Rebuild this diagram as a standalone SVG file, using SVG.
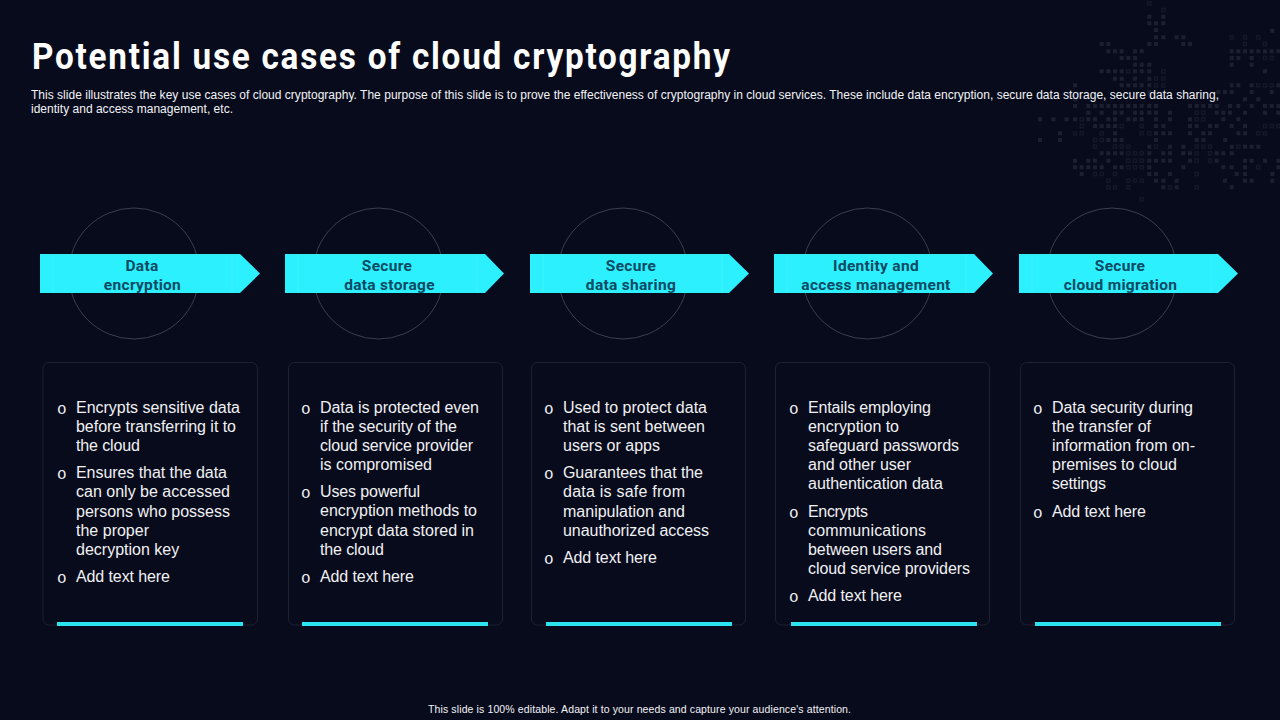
<svg xmlns="http://www.w3.org/2000/svg" xmlns:xlink="http://www.w3.org/1999/xlink" width="1280" height="720" viewBox="0 0 1280 720">
<style>
.title{font:700 37px Roboto,"Liberation Sans",sans-serif;fill:#fff}
.intro{font:12px "Liberation Sans",Arial,sans-serif;fill:#f2f3f6}
.foot{font:10.5px "Liberation Sans",Arial,sans-serif;fill:#f2f3f6}
.b{font:16px "Liberation Sans",Arial,sans-serif;fill:#f0f1f4}
.o{font:16px "Liberation Mono","Courier New",monospace;fill:#f0f1f4}
.h{font:700 15.5px Roboto,"Liberation Sans",sans-serif;fill:#0b4a62;text-anchor:middle;letter-spacing:.3px}
.ring{fill:none;stroke:#3b3f4c;stroke-width:1}
.arrow{fill:#2cf0fe}
.fold{stroke:#3cf2fe;stroke-width:1}
.card{fill:#080b1b;stroke:#1d2130;stroke-width:1}
.bar{fill:#2ce4f0}
</style>
<defs>
<path id="cellsO" d="M388 10h0M430 30h0M635 112h0M675 112h0M715 112h0M675 132h0M735 132h0M735 174h0M755 174h0M325 214h0M430 214h0M408 236h0M430 236h0M408 256h0M430 256h0M715 256h0M735 256h0M755 256h0M530 338h0M550 338h0M185 358h0M530 358h0M550 358h0M185 378h0M305 378h0M365 378h0M735 378h0M755 378h0M775 378h0M165 400h0M185 400h0M245 400h0M365 400h0M388 400h0M715 400h0M735 400h0M225 420h0M245 420h0M225 440h0M285 440h0M305 440h0M325 440h0M408 440h0M530 440h0M550 440h0M570 440h0M655 440h0M325 460h0M345 460h0M365 460h0M530 460h0M570 460h0M325 482h0M345 482h0M365 482h0M530 482h0M570 482h0M325 502h0M345 502h0M365 502h0M715 502h0M225 522h0M245 522h0M285 522h0M530 522h0M265 542h0M325 542h0M345 542h0M365 542h0M265 562h0M285 562h0M325 562h0M450 562h0M530 562h0M365 598h0"/>
</defs>
<rect width="1280" height="720" fill="#080b1c"/>
<g id="dot-map" transform="translate(1020,0) scale(.33333)" fill="none" stroke-linecap="square">
<use xlink:href="#cellsO" href="#cellsO" stroke="#171c2c" stroke-width="13"/>
<use xlink:href="#cellsO" href="#cellsO" stroke="#0a0d1f" stroke-width="7"/>
<path stroke="#1b2031" stroke-width="12" d="M388 50h0M430 50h0M388 70h0M408 70h0M430 70h0M408 90h0M757 92h0M408 112h0M430 112h0M470 112h0M490 112h0M245 132h0M265 132h0M388 132h0M408 132h0M490 132h0M510 132h0M265 154h0M285 154h0M305 154h0M345 154h0M365 154h0M635 154h0M655 154h0M675 154h0M695 154h0M715 154h0M735 154h0M755 154h0M775 154h0M305 174h0M325 174h0M345 174h0M635 174h0M655 174h0M695 174h0M345 194h0M365 194h0M388 194h0M635 194h0M695 194h0M245 214h0M265 214h0M285 214h0M305 214h0M345 214h0M365 214h0M388 214h0M735 214h0M285 236h0M305 236h0M345 236h0M388 236h0M165 256h0M305 256h0M325 256h0M345 256h0M365 256h0M388 256h0M635 256h0M655 256h0M695 256h0M775 256h0M388 276h0M595 276h0M615 276h0M635 276h0M695 276h0M755 276h0M165 298h0M675 298h0M715 298h0M165 318h0M205 318h0M225 318h0M245 318h0M265 318h0M285 318h0M305 318h0M325 318h0M345 318h0M365 318h0M388 318h0M408 318h0M510 318h0M530 318h0M550 318h0M570 318h0M590 318h0M630 318h0M655 318h0M695 318h0M735 318h0M755 318h0M775 318h0M205 338h0M245 338h0M285 338h0M305 338h0M345 338h0M365 338h0M388 338h0M408 338h0M450 338h0M590 338h0M610 338h0M630 338h0M675 338h0M735 338h0M775 338h0M60 358h0M100 358h0M140 358h0M165 358h0M205 358h0M225 358h0M265 358h0M285 358h0M325 358h0M345 358h0M365 358h0M408 358h0M450 358h0M510 358h0M610 358h0M655 358h0M225 378h0M245 378h0M265 378h0M285 378h0M408 378h0M430 378h0M510 378h0M530 378h0M570 378h0M590 378h0M635 378h0M675 378h0M120 400h0M285 400h0M408 400h0M430 400h0M450 400h0M510 400h0M550 400h0M570 400h0M655 400h0M675 400h0M60 420h0M120 420h0M265 420h0M285 420h0M305 420h0M408 420h0M530 420h0M550 420h0M615 420h0M388 440h0M450 440h0M490 440h0M635 440h0M675 440h0M695 440h0M715 440h0M245 460h0M265 460h0M285 460h0M305 460h0M388 460h0M430 460h0M450 460h0M490 460h0M510 460h0M590 460h0M610 460h0M635 460h0M165 482h0M205 482h0M225 482h0M265 482h0M388 482h0M408 482h0M430 482h0M450 482h0M510 482h0M590 482h0M675 482h0M695 482h0M735 482h0M775 482h0M165 502h0M185 502h0M205 502h0M225 502h0M245 502h0M285 502h0M305 502h0M388 502h0M490 502h0M610 502h0M635 502h0M675 502h0M775 502h0M185 522h0M388 522h0M408 522h0M450 522h0M650 522h0M675 522h0M757 522h0M408 542h0M430 542h0M470 542h0M615 542h0M675 542h0M695 542h0M757 542h0M430 562h0M470 562h0M635 562h0"/>
</g>
<g id="heading">
<text class="title" transform="translate(32 69) scale(.9 1)" x="0" y="0" textLength="775.500">Potential use cases of cloud cryptography</text>
<text class="intro" x="31" y="99" textLength="1188">This slide illustrates the key use cases of cloud cryptography. The purpose of this slide is to prove the effectiveness of cryptography in cloud services. These include data encryption, secure data storage, secure data sharing,</text>
<text class="intro" x="31" y="113" textLength="202">identity and access management, etc.</text>
</g>
<g id="connectors"></g>
<g id="node-1">
<circle class="ring" cx="134" cy="273.5" r="65.5"/>
<path class="arrow" d="M40 254H240L260 273.5L240 293H40Z"/>
<path class="fold" d="M53 254V293M232 254V293"/>
<text class="h" x="142" y="271">Data</text>
<text class="h" x="142.500" y="290">encryption</text>
<rect class="card" x="43" y="362.500" width="214.500" height="262.500" rx="6"/>
<rect class="bar" x="57" y="622" width="186" height="4"/>
<text class="o" x="57" y="414">o</text><text class="b" x="76" y="413" textLength="164">Encrypts sensitive data</text>
<text class="b" x="76" y="432" textLength="160">before transferring it to</text>
<text class="b" x="76" y="451" textLength="64">the cloud</text>
<text class="o" x="57" y="479">o</text><text class="b" x="76" y="478" textLength="151">Ensures that the data</text>
<text class="b" x="76" y="497" textLength="154">can only be accessed</text>
<text class="b" x="76" y="517" textLength="154">persons who possess</text>
<text class="b" x="76" y="536" textLength="73">the proper</text>
<text class="b" x="76" y="555">decryption key</text>
<text class="o" x="57" y="583">o</text><text class="b" x="76" y="582" textLength="94">Add text here</text>
</g>
<g id="node-2">
<circle class="ring" cx="378.500" cy="273.5" r="65.5"/>
<path class="arrow" d="M285 254H485L504 273.5L485 293H285Z"/>
<path class="fold" d="M298 254V293M477 254V293"/>
<text class="h" x="387" y="271">Secure</text>
<text class="h" x="389.500" y="290">data storage</text>
<rect class="card" x="288.500" y="362.500" width="214" height="262.500" rx="6"/>
<rect class="bar" x="302" y="622" width="186" height="4"/>
<text class="o" x="301" y="414">o</text><text class="b" x="320" y="413" textLength="159">Data is protected even</text>
<text class="b" x="320" y="432" textLength="137">if the security of the</text>
<text class="b" x="320" y="451" textLength="153">cloud service provider</text>
<text class="b" x="320" y="470" textLength="112">is compromised</text>
<text class="o" x="301" y="498">o</text><text class="b" x="320" y="497" textLength="100">Uses powerful</text>
<text class="b" x="320" y="516" textLength="157">encryption methods to</text>
<text class="b" x="320" y="536" textLength="154">encrypt data stored in</text>
<text class="b" x="320" y="555" textLength="64">the cloud</text>
<text class="o" x="301" y="583">o</text><text class="b" x="320" y="582" textLength="94">Add text here</text>
</g>
<g id="node-3">
<circle class="ring" cx="623" cy="273.5" r="65.5"/>
<path class="arrow" d="M530 254H729L749 273.5L729 293H530Z"/>
<path class="fold" d="M543 254V293M722 254V293"/>
<text class="h" x="631" y="271">Secure</text>
<text class="h" x="631" y="290">data sharing</text>
<rect class="card" x="531.500" y="362.500" width="214" height="262.500" rx="6"/>
<rect class="bar" x="546" y="622" width="186" height="4"/>
<text class="o" x="544" y="414">o</text><text class="b" x="563" y="413" textLength="144">Used to protect data</text>
<text class="b" x="563" y="432" textLength="142">that is sent between</text>
<text class="b" x="563" y="451" textLength="97">users or apps</text>
<text class="o" x="544" y="479">o</text><text class="b" x="563" y="478" textLength="140">Guarantees that the</text>
<text class="b" x="563" y="497" textLength="122">data is safe from</text>
<text class="b" x="563" y="517" textLength="122">manipulation and</text>
<text class="b" x="563" y="536" textLength="146">unauthorized access</text>
<text class="o" x="544" y="564">o</text><text class="b" x="563" y="563" textLength="94">Add text here</text>
</g>
<g id="node-4">
<circle class="ring" cx="867.500" cy="273.5" r="65.5"/>
<path class="arrow" d="M774 254H974L993 273.5L974 293H774Z"/>
<path class="fold" d="M787 254V293M966 254V293"/>
<text class="h" x="876" y="271">Identity and</text>
<text class="h" x="876" y="290">access management</text>
<rect class="card" x="775.500" y="362.500" width="214" height="262.500" rx="6"/>
<rect class="bar" x="791" y="622" width="186" height="4"/>
<text class="o" x="789" y="414">o</text><text class="b" x="808" y="413" textLength="123">Entails employing</text>
<text class="b" x="808" y="432" textLength="91">encryption to</text>
<text class="b" x="808" y="451" textLength="151">safeguard passwords</text>
<text class="b" x="808" y="470" textLength="103">and other user</text>
<text class="b" x="808" y="489" textLength="135">authentication data</text>
<text class="o" x="789" y="518">o</text><text class="b" x="808" y="517" textLength="60">Encrypts</text>
<text class="b" x="808" y="536" textLength="118">communications</text>
<text class="b" x="808" y="555" textLength="134">between users and</text>
<text class="b" x="808" y="574" textLength="162">cloud service providers</text>
<text class="o" x="789" y="602">o</text><text class="b" x="808" y="601" textLength="94">Add text here</text>
</g>
<g id="node-5">
<circle class="ring" cx="1112" cy="273.5" r="65.5"/>
<path class="arrow" d="M1019 254H1218L1238 273.5L1218 293H1019Z"/>
<path class="fold" d="M1032 254V293M1211 254V293"/>
<text class="h" x="1120" y="271">Secure</text>
<text class="h" x="1120.500" y="290">cloud migration</text>
<rect class="card" x="1020.500" y="362.500" width="214" height="262.500" rx="6"/>
<rect class="bar" x="1035" y="622" width="186" height="4"/>
<text class="o" x="1033" y="414">o</text><text class="b" x="1052" y="413" textLength="141">Data security during</text>
<text class="b" x="1052" y="432" textLength="99">the transfer of</text>
<text class="b" x="1052" y="451" textLength="143">information from on-</text>
<text class="b" x="1052" y="470" textLength="125">premises to cloud</text>
<text class="b" x="1052" y="489" textLength="54">settings</text>
<text class="o" x="1033" y="518">o</text><text class="b" x="1052" y="517" textLength="94">Add text here</text>
</g>
<g id="footer">
<text class="foot" x="428" y="713" textLength="423">This slide is 100% editable. Adapt it to your needs and capture your audience's attention.</text>
</g>
</svg>
